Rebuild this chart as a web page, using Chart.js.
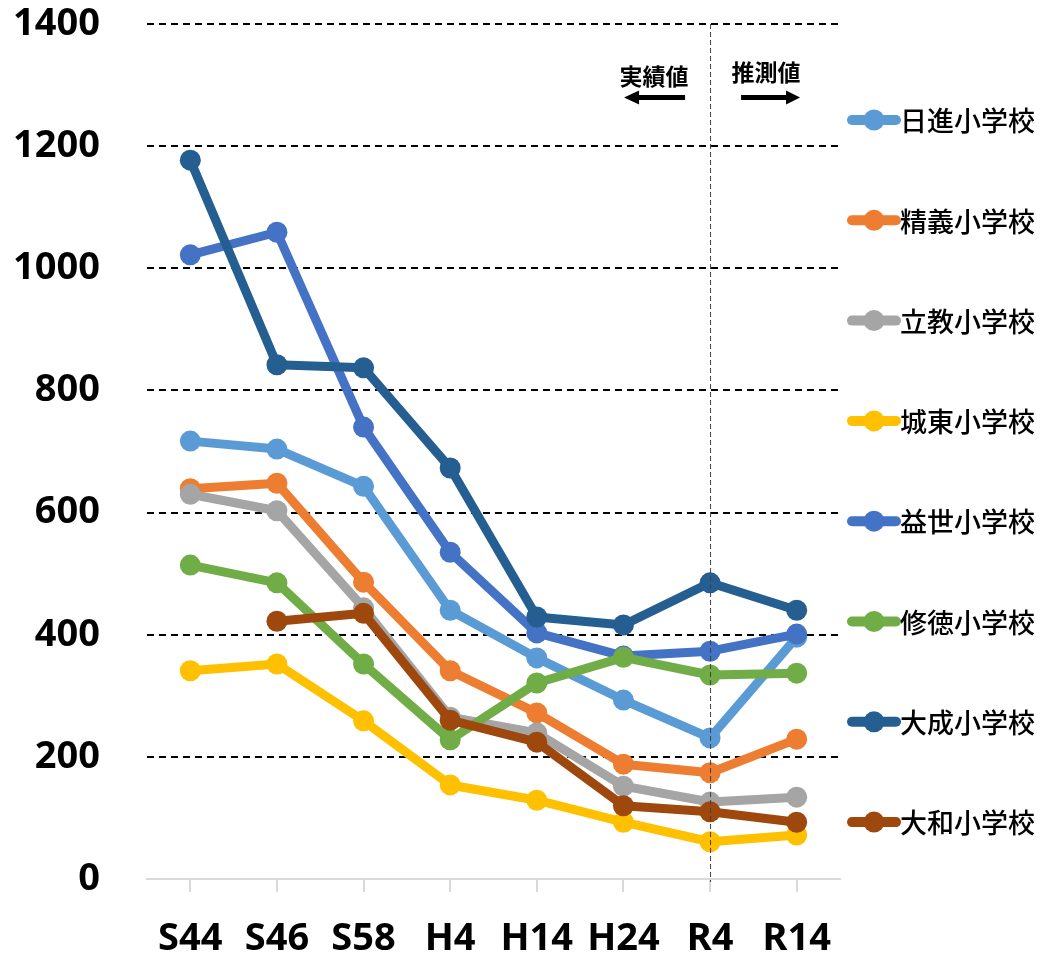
<!DOCTYPE html>
<html>
<head>
<meta charset="utf-8">
<script src="https://cdn.jsdelivr.net/npm/chart.js@4.4.0/dist/chart.umd.min.js"></script>
<style>
  body { margin: 0; background: #fff; }
  canvas { display: block; }
</style>
</head>
<body>
<canvas id="chart" width="1041" height="959"></canvas>
<script>
// 年度ラベル
const years = ['S44', 'S46', 'S58', 'H4', 'H14', 'H24', 'R4', 'R14'];

// 児童数
const nisshin = [717, 704, 643, 440, 362, 293, 231, 396];
const seigi   = [639, 648, 486, 341, 272, 188, 174, 229];
const rikkyo  = [630, 603, 444, 265, 239, 152, 126, 134];
const joto    = [341, 352, 259, 154, 129, 93, 61, 72];
const ekisei  = [1022, 1059, 740, 535, 403, 365, 373, 401];
const shutoku = [514, 485, 352, 228, 321, 363, 334, 337];
const taisei  = [1177, 842, 837, 673, 429, 416, 485, 440];
const yamato  = [null, 422, 435, 260, 224, 120, 110, 93];

const schoolNames = ['日進小学校', '精義小学校', '立教小学校', '城東小学校', '益世小学校', '修徳小学校', '大成小学校', '大和小学校'];
const schoolColors = ['#5B9BD5', '#ED7D31', '#A5A5A5', '#FFC000', '#4472C4', '#70AD47', '#255E91', '#9E480E'];
const seriesList = [nisshin, seigi, rikkyo, joto, ekisei, shutoku, taisei, yamato];

const yTicks = [0, 200, 400, 600, 800, 1000, 1200, 1400];

const datasets = seriesList.map((values, i) => ({
  label: schoolNames[i],
  data: values,
  borderColor: schoolColors[i],
  backgroundColor: schoolColors[i],
  borderWidth: 9,
  borderJoinStyle: 'round',
  borderCapStyle: 'round',
  pointRadius: 10.5,
  pointBorderWidth: 0,
  pointHoverRadius: 10.5,
  tension: 0,
  order: seriesList.length - i   // 後の系列を上に描く
}));

// R4の縦線・実績値/推測値の注記・凡例
const extrasPlugin = {
  id: 'extras',
  afterDatasetsDraw(chart) {
    const ctx = chart.ctx;
    const area = chart.chartArea;
    const x = chart.scales.x.getPixelForValue(6);

    ctx.save();
    ctx.strokeStyle = '#404040';
    ctx.lineWidth = 1;
    ctx.setLineDash([5, 3]);
    ctx.beginPath();
    ctx.moveTo(x + 0.5, area.top);
    ctx.lineTo(x + 0.5, area.bottom + 3);
    ctx.stroke();
    ctx.setLineDash([]);

    ctx.fillStyle = '#000';
    ctx.font = 'bold 23px "Noto Sans CJK JP"';
    ctx.textAlign = 'center';
    ctx.textBaseline = 'middle';
    ctx.fillText('実績値', x - 56, 76);
    ctx.fillText('推測値', x + 56, 72);

    // 矢印
    ctx.strokeStyle = '#000';
    ctx.lineWidth = 5;
    ctx.beginPath();
    ctx.moveTo(x - 25, 97.5);
    ctx.lineTo(x - 72, 97.5);
    ctx.stroke();
    ctx.beginPath();
    ctx.moveTo(x - 86, 97.5);
    ctx.lineTo(x - 71, 90.5);
    ctx.lineTo(x - 71, 104.5);
    ctx.closePath();
    ctx.fill();

    ctx.beginPath();
    ctx.moveTo(x + 31, 97.5);
    ctx.lineTo(x + 78, 97.5);
    ctx.stroke();
    ctx.beginPath();
    ctx.moveTo(x + 90, 97.5);
    ctx.lineTo(x + 76, 90.5);
    ctx.lineTo(x + 76, 104.5);
    ctx.closePath();
    ctx.fill();

    // 凡例
    ctx.font = '500 27px "Noto Sans CJK JP"';
    ctx.textAlign = 'left';
    chart.data.datasets.forEach((ds, i) => {
      const y = 120 + i * 100.3;
      ctx.strokeStyle = ds.borderColor;
      ctx.fillStyle = ds.borderColor;
      ctx.lineWidth = 10;
      ctx.lineCap = 'round';
      ctx.beginPath();
      ctx.moveTo(852, y);
      ctx.lineTo(896, y);
      ctx.stroke();
      ctx.beginPath();
      ctx.arc(874, y, 10.5, 0, Math.PI * 2);
      ctx.fill();
      ctx.fillStyle = '#000';
      ctx.fillText(ds.label, 900, y + 1);
    });
    ctx.restore();
  }
};

new Chart(document.getElementById('chart').getContext('2d'), {
  type: 'line',
  data: { labels: years, datasets: datasets },
  plugins: [extrasPlugin],
  options: {
    responsive: false,
    animation: false,
    layout: { padding: { top: 24, right: 201, left: 0, bottom: 0 } },
    plugins: {
      legend: { display: false },
      tooltip: { enabled: false }
    },
    scales: {
      x: {
        offset: true,
        afterFit(scale) {
          scale.height = 80;
          scale.paddingLeft = 0;
          scale.paddingRight = 0;
        },
        grid: {
          display: true,
          drawOnChartArea: false,
          drawTicks: true,
          tickLength: 13,
          color: '#D9D9D9',
          lineWidth: 2
        },
        border: { display: true, color: '#D9D9D9', width: 2 },
        ticks: {
          color: '#000',
          padding: 24,
          maxRotation: 0,
          font: { family: '"Noto Sans"', size: 38, weight: 'bold' }
        }
      },
      y: {
        min: 0,
        max: 1400,
        afterBuildTicks(scale) {
          scale.ticks = yTicks.map(v => ({ value: v }));
        },
        afterFit(scale) {
          scale.width = 147;
          scale.paddingTop = 0;
          scale.paddingBottom = 0;
        },
        grid: {
          drawTicks: false,
          color: c => (c.tick && c.tick.value === 0) ? 'rgba(0,0,0,0)' : '#000',
          lineWidth: 2
        },
        border: { display: false, dash: [7, 5] },
        ticks: {
          color: '#000',
          padding: 47,
          callback: v => String(v),
          font: { family: '"Noto Sans"', size: 38, weight: 'bold' }
        }
      }
    }
  }
});
</script>
</body>
</html>
